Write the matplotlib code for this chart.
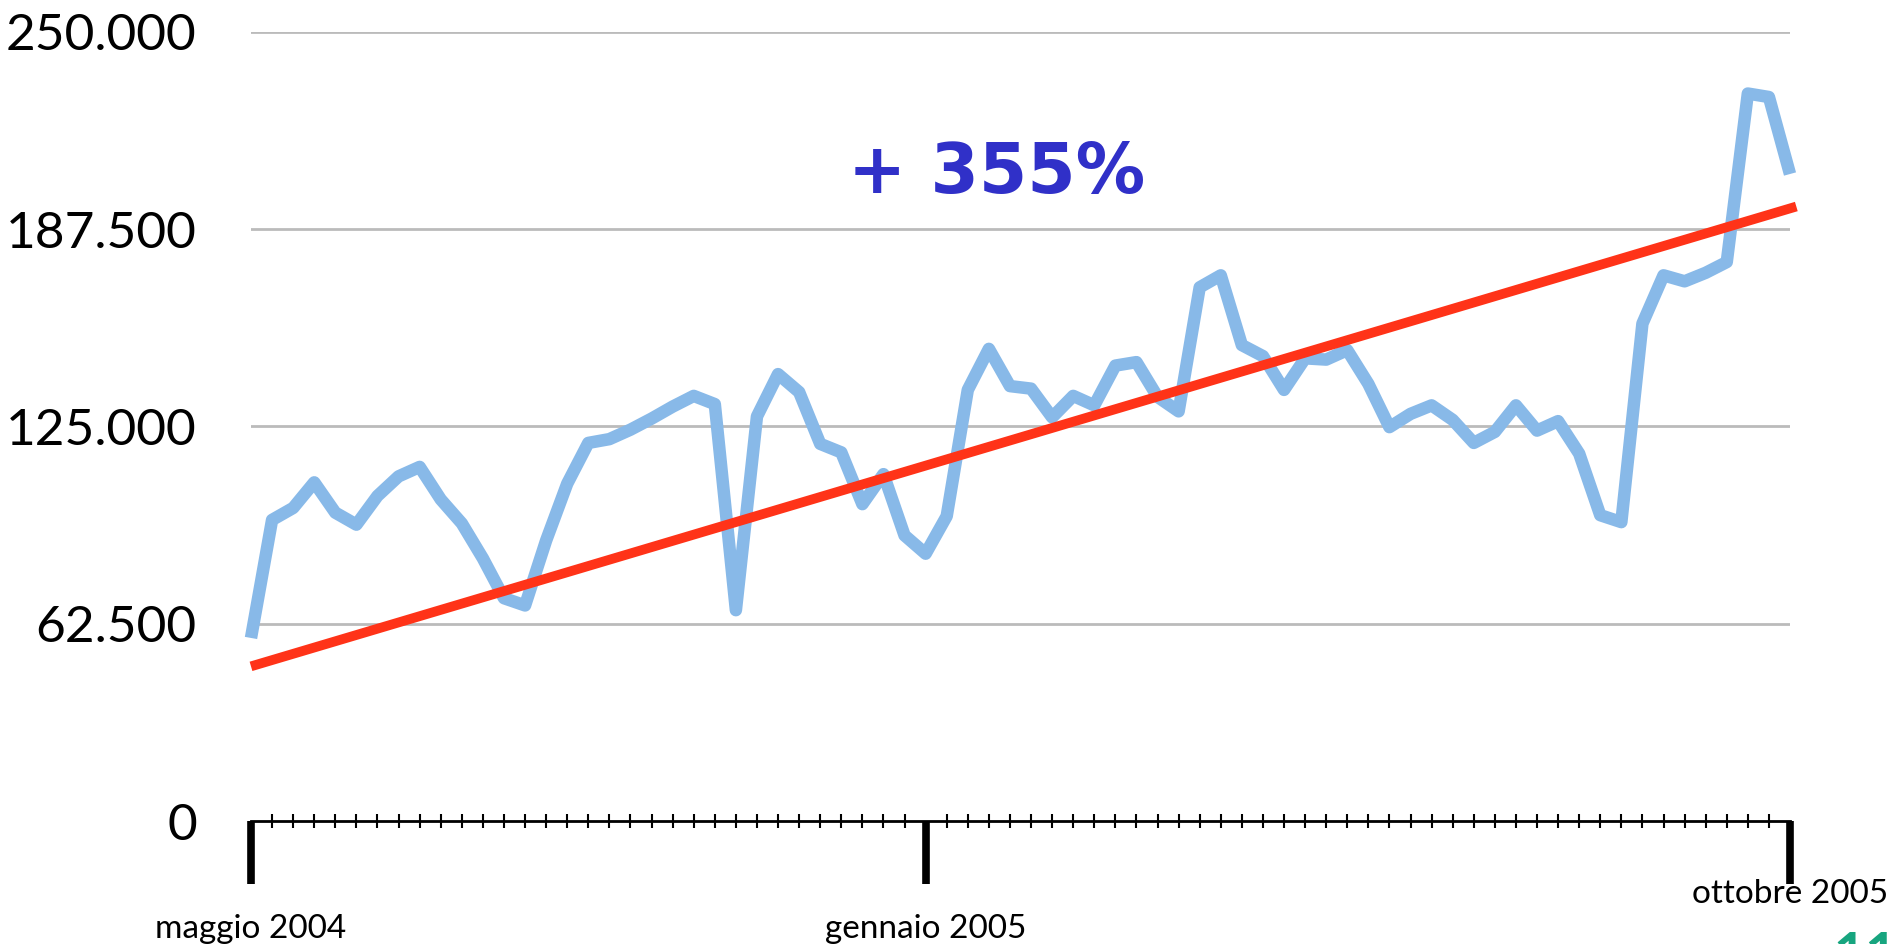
import matplotlib.pyplot as plt

# weekly values, maggio 2004 -> ottobre 2005
weeks = list(range(74))
values = [58000, 95400, 99200, 107300, 97700, 93900, 103000, 109200, 112200, 101900,
          94300, 83200, 70600, 68300, 88900, 106900, 119800, 121000, 124000, 127500,
          131300, 134700, 132100, 66800, 128200, 141600, 135900, 119500, 116800, 100400,
          109900, 90500, 84700, 96600, 136600, 149600, 137800, 137000, 127900, 134700,
          131700, 144300, 145400, 134400, 129800, 169100, 172900, 150800, 147300, 136600,
          146600, 146200, 149200, 138500, 124800, 129000, 131700, 127100, 119800, 123300,
          131700, 123700, 126700, 116400, 96900, 94700, 157600, 172900, 171000, 173700,
          177100, 230500, 229400, 205000]

# trend line (start / end)
trend_x = [0, 73.3]
trend_y = [49000, 194700]

y_ticks = [0, 62500, 125000, 187500, 250000]
major_pos = [0, 32, 73]
major_labels = ["maggio 2004", "gennaio 2005", "ottobre 2005"]
growth_label = "+ 355%"

fig = plt.figure(figsize=(18.91, 9.44), dpi=100)
ax = fig.add_axes([251 / 1891, 123 / 944, 1539 / 1891, 789 / 944])

ax.set_xlim(0, 73)
ax.set_ylim(0, 250000)

# grid
for v in y_ticks[1:]:
    ax.axhline(v, color='#BBBBBB', lw=2, zorder=1)

ax.plot(weeks, values, color='#88B9E8', lw=9, solid_joinstyle='round',
        solid_capstyle='butt', zorder=3, clip_on=False)
ax.plot(trend_x, trend_y, color='#FF3318', lw=7, solid_capstyle='butt',
        zorder=4, clip_on=False)

for s in ['top', 'right', 'left']:
    ax.spines[s].set_visible(False)
ax.spines['bottom'].set_linewidth(2)
ax.spines['bottom'].set_color('black')
ax.spines['bottom'].set_zorder(5)

ax.set_yticks(y_ticks)
ax.set_yticklabels([f"{v:,.0f}".replace(",", ".") for v in y_ticks],
                   fontsize=37, family='Lato')
ax.tick_params(axis='y', length=0, pad=39)

# x ticks: minor every week, major at the three labelled dates
ax.set_xticks(major_pos)
ax.set_xticklabels([])
ax.set_xticks([w for w in weeks[1:] if w not in major_pos], minor=True)
ax.tick_params(axis='x', which='major', direction='out', length=45, width=5.5, color='black')
ax.tick_params(axis='x', which='minor', direction='inout', length=9.5, width=1.5, color='black')

offsets = [-117, -117, -82]
for pos, lab, dy in zip(major_pos, major_labels, offsets):
    ax.annotate(lab, xy=(pos, 0), xycoords=('data', 'axes fraction'),
                xytext=(0, dy), textcoords='offset pixels',
                ha='center', va='baseline', fontsize=24, family='Lato',
                annotation_clip=False)

fig.text(997 / 1891, 1 - 193 / 944, growth_label, ha='center', va='baseline',
         fontsize=50, fontweight='bold', family='DejaVu Sans', color='#3030C8')

# slide page number, cut at the bottom edge
fig.text(1833 / 1891, 1 - 972 / 944, "11", ha='left', va='baseline',
         fontsize=40, fontweight='bold', family='Lato', color='#17A57F')

fig.savefig('out.png', dpi=100)
